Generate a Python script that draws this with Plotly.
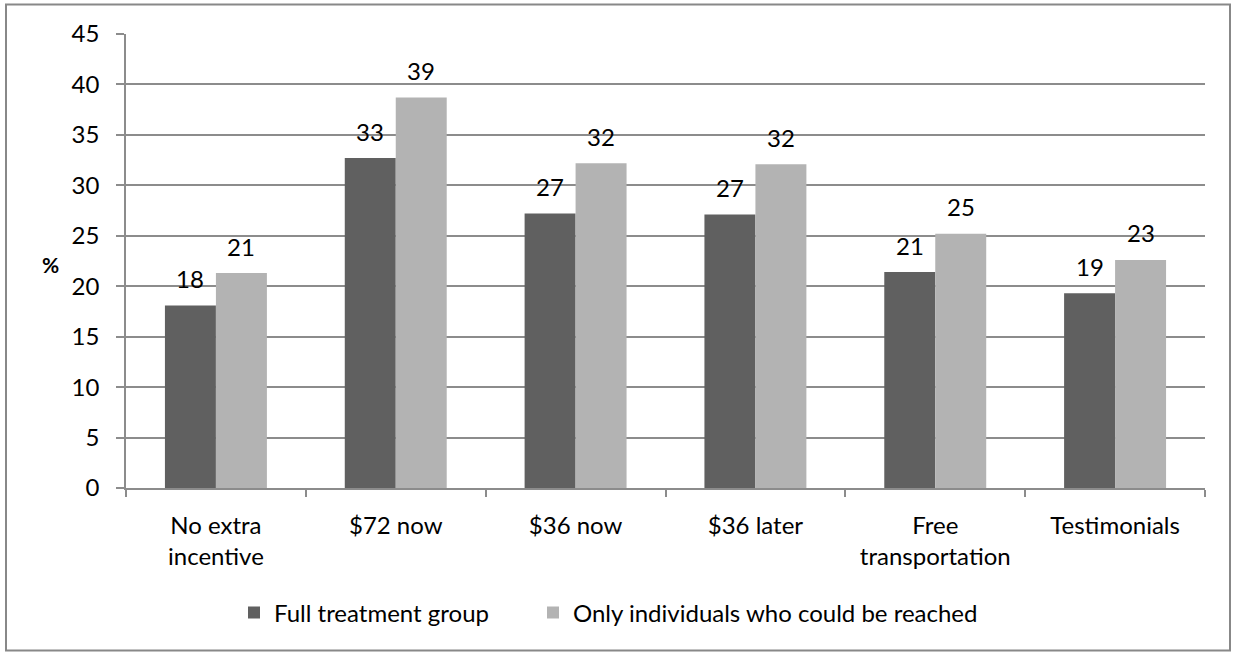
import plotly.graph_objects as go

# Categories and the two series (percent)
categories = ["No extra<br>incentive", "$72 now", "$36 now", "$36 later",
              "Free<br>transportation", "Testimonials"]
full_group = [18.1, 32.7, 27.2, 27.1, 21.4, 19.3]
reached_only = [21.3, 38.7, 32.2, 32.1, 25.2, 22.6]
series_names = ["Full treatment group", "Only individuals who could be reached"]
y_ticks = [0, 5, 10, 15, 20, 25, 30, 35, 40, 45]

FONT = "Lato"
FS = 24
DARK = "#606060"
LIGHT = "#b3b3b3"
GRID = "#8c8c8c"

PLOT_W, PLOT_H = 1079, 454
L, T = 126, 34


def px_x(px):
    return (px - L) / PLOT_W


def px_y(py):
    return (T + PLOT_H - py) / PLOT_H


fig = go.Figure()
for name, vals, color, leg in [(series_names[0], full_group, DARK, "legend"),
                               (series_names[1], reached_only, LIGHT, "legend2")]:
    fig.add_trace(go.Bar(
        x=categories, y=vals, name=name, legend=leg,
        marker=dict(color=color, line=dict(width=0)),
        hoverinfo="skip",
    ))

# Value labels above each bar, taken from the bar values
annotations = []
for vals, shift in [(full_group, -25.5), (reached_only, 25.5)]:
    for cat, v in zip(categories, vals):
        annotations.append(dict(
            x=cat, y=v, xref="x", yref="y", text=f"{v:.0f}",
            showarrow=False, xshift=shift, yshift=27, yanchor="middle",
            font=dict(family=FONT, size=FS, color="black"),
        ))

annotations.append(dict(
    x=px_x(50), y=px_y(264), xref="paper", yref="paper",
    xanchor="center", yanchor="middle",
    text="<b>%</b>", showarrow=False,
    font=dict(family=FONT, size=21, color="black"),
))

legend_style = dict(orientation="h", xanchor="left", yanchor="middle",
                    y=px_y(613), itemwidth=30,
                    font=dict(family=FONT, size=FS, color="black"),
                    bgcolor="rgba(0,0,0,0)")

fig.update_layout(
    width=1235, height=652,
    margin=dict(l=L, r=1235 - L - PLOT_W, t=T, b=652 - T - PLOT_H, pad=0),
    paper_bgcolor="white", plot_bgcolor="white",
    barmode="group", bargap=0.433, bargroupgap=0,
    font=dict(family=FONT, size=FS, color="black"),
    showlegend=True,
    legend=dict(x=px_x(234), **legend_style),
    legend2=dict(x=px_x(533), **legend_style),
    annotations=annotations,
    shapes=[dict(type="rect", xref="paper", yref="paper",
                 x0=px_x(6), x1=px_x(1230), y0=px_y(650.5), y1=px_y(4.5),
                 line=dict(color="#888888", width=2), layer="below")],
)

fig.update_yaxes(
    range=[0, 45], tickvals=y_ticks, ticktext=[str(t) for t in y_ticks],
    showgrid=True, gridcolor=GRID, gridwidth=1.5,
    showline=True, linecolor=GRID, linewidth=1.5,
    ticks="outside", ticklen=8, tickcolor=GRID, tickwidth=1.5,
    ticklabelstandoff=12, zeroline=False,
    tickfont=dict(family=FONT, size=FS, color="black"),
)
fig.update_xaxes(
    showline=True, linecolor=GRID, linewidth=1.5,
    ticks="outside", ticklen=7, tickcolor=GRID, tickwidth=1.5,
    tickson="boundaries", showgrid=False,
    ticklabelstandoff=15,
    tickfont=dict(family=FONT, size=FS, color="black"),
)

fig.write_html("out.html")
